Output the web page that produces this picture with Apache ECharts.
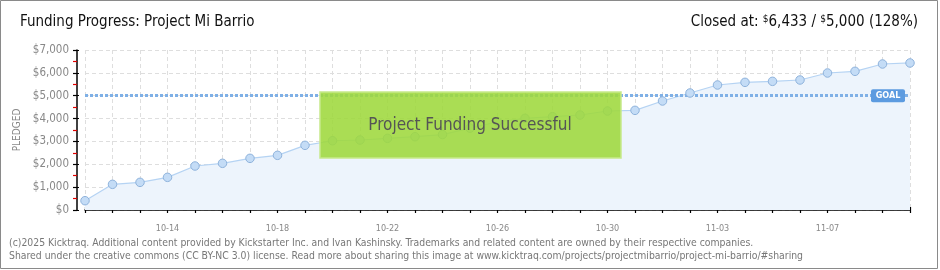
<!DOCTYPE html>
<html><head><meta charset="utf-8">
<script src="https://cdn.jsdelivr.net/npm/echarts@6/dist/echarts.min.js"></script>
<style>html,body{margin:0;padding:0;background:#fff}#c{width:940px;height:270px}</style>
</head><body><div id="c"></div>
<script>
const dates = ['10-11','10-12','10-13','10-14','10-15','10-16','10-17','10-18','10-19','10-20','10-21','10-22','10-23','10-24','10-25','10-26','10-27','10-28','10-29','10-30','10-31','11-01','11-02','11-03','11-04','11-05','11-06','11-07','11-08','11-09','11-10'];
const pledged = [407,1123,1210,1429,1925,2042,2260,2392,2829,3030,3062,3135,3208,3300,3580,3860,4010,4083,4156,4331,4360,4769,5119,5469,5585,5629,5688,5994,6067,6388,6433];
const goal = 5000;
const yMin = 0, yMax = 7000, yStep = 1000;
const titleText = 'Funding Progress: Project Mi Barrio';
const closedAmount = '6,433';
const goalAmount = '5,000';
const percentText = '(128%)';
const footer1 = '(c)2025 Kicktraq. Additional content provided by Kickstarter Inc. and Ivan Kashinsky. Trademarks and related content are owned by their respective companies.';
const footer2 = 'Shared under the creative commons (CC BY-NC 3.0) license. Read more about sharing this image at www.kicktraq.com/projects/projectmibarrio/project-mi-barrio/#sharing';

const FONT = '"DejaVu Sans Condensed", "DejaVu Sans", sans-serif';
const chart = echarts.init(document.getElementById('c'), null, {renderer:'canvas'});

const option = {
  animation: false,
  backgroundColor: '#fff',
  grid: {left: 85, right: 30, top: 50, bottom: 60, containLabel: false},
  xAxis: [{
    type: 'category', data: dates, boundaryGap: false, offset: 10,
    axisLine: {show: true, lineStyle: {color: '#000', width: 1.5}},
    axisTick: {show: true, interval: 0, length: 3, lineStyle: {color: '#000', width: 1.2}},
    axisLabel: {interval: (i) => i % 4 === 3, color: '#888', fontSize: 9, fontFamily: FONT, margin: 4},
    splitLine: {show: true, interval: 0, lineStyle: {color: '#dedede', type: [4, 3]}}
  }, {
    type: 'category', data: dates, boundaryGap: false, offset: 10, position: 'bottom',
    axisLine: {show: false},
    axisTick: {show: true, inside: true, interval: 0, length: 3, lineStyle: {color: '#000', width: 1.2}},
    axisLabel: {show: false}, splitLine: {show: false}
  }],
  yAxis: [{
    type: 'value', min: yMin, max: yMax, interval: yStep, offset: 8,
    name: 'PLEDGED', nameLocation: 'middle', nameGap: 46, nameRotate: 90,
    nameTextStyle: {color: '#888', fontSize: 10, fontFamily: FONT},
    axisLine: {show: true, lineStyle: {color: '#000', width: 1.5}},
    axisTick: {show: true, length: 4, lineStyle: {color: '#000', width: 1.2}},
    minorTick: {show: true, splitNumber: 2, length: 4, lineStyle: {color: '#e00000', width: 1.2}},
    axisLabel: {color: '#888', fontSize: 11.5, fontFamily: FONT, margin: 8,
      formatter: (v) => '$' + v.toLocaleString('en-US')},
    splitLine: {show: true, lineStyle: {color: '#dedede', type: [4, 3]}}
  }, {
    type: 'value', min: yMin, max: yMax, interval: yStep, offset: 8, position: 'left',
    axisLine: {show: false},
    axisTick: {show: true, inside: true, length: 2, lineStyle: {color: '#000', width: 1.2}},
    axisLabel: {show: false}, splitLine: {show: false}
  }],
  series: [{
    type: 'line', data: pledged, xAxisIndex: 0, yAxisIndex: 0,
    showSymbol: false,
    lineStyle: {color: '#b5d3f3', width: 1.2},
    areaStyle: {color: '#edf4fc', opacity: 1},
    z: 2
  }, {
    type: 'line', data: [], xAxisIndex: 0, yAxisIndex: 0, z: 3,
    markLine: {
      silent: true, symbol: 'none',
      lineStyle: {color: '#7fb0e6', width: 3, type: [3, 2]},
      label: {show: false},
      data: [{yAxis: goal}]
    }
  }, {
    type: 'line', data: pledged, xAxisIndex: 0, yAxisIndex: 0, z: 5,
    symbol: 'circle', symbolSize: 8.5,
    itemStyle: {color: '#c4dcf6', borderColor: '#8fb3dc', borderWidth: 1},
    lineStyle: {opacity: 0, width: 0}
  }],
  graphic: [
    {type: 'rect', shape: {x: 0.5, y: 0.5, width: 937, height: 268}, style: {fill: 'none', stroke: '#8a8a8a', lineWidth: 1}, z: 100},
    {type: 'text', x: 20, y: 22, style: {text: titleText, fill: '#111', font: '15px ' + FONT, textVerticalAlign: 'middle'}},
    {type: 'text', x: 918, y: 22, style: {
      text: 'Closed at: {s|$}' + closedAmount + ' / {s|$}' + goalAmount + ' ' + percentText,
      fill: '#111', font: '15px ' + FONT, textAlign: 'right', textVerticalAlign: 'middle',
      rich: {s: {fontSize: 10, fontFamily: FONT, fill: '#111', verticalAlign: 'top', padding: [0, 0, 6, 0]}}
    }},
    {type: 'text', x: 9, y: 243, style: {text: footer1, fill: '#777', font: '10.35px ' + FONT, textVerticalAlign: 'middle'}},
    {type: 'text', x: 9, y: 256, style: {text: footer2, fill: '#777', font: '10.35px ' + FONT, textVerticalAlign: 'middle'}},
    {type: 'rect', shape: {x: 320, y: 92, width: 301, height: 66}, style: {fill: 'rgba(158,216,60,0.88)', stroke: '#c6e98a', lineWidth: 1.5}, z: 50},
    {type: 'text', x: 470, y: 126, z: 51, style: {text: 'Project Funding Successful', fill: '#555', font: '17px ' + FONT,
      textAlign: 'center', textVerticalAlign: 'middle', textShadowColor: '#fff', textShadowOffsetX: 1, textShadowOffsetY: 1, textShadowBlur: 0}}
  ]
};
chart.setOption(option);

const p = chart.convertToPixel({xAxisIndex: 0, yAxisIndex: 0}, [dates.length - 1, goal]);
chart.setOption({graphic: option.graphic.concat([
  {type: 'rect', shape: {x: p[0] - 39, y: p[1] - 6.5, width: 34, height: 13, r: 2}, style: {fill: '#5c9be0'}, z: 60},
  {type: 'text', x: p[0] - 22, y: p[1], z: 61, style: {text: 'GOAL', fill: '#fff', font: 'bold 9px ' + FONT, textAlign: 'center', textVerticalAlign: 'middle'}}
])});
</script>
</body></html>
